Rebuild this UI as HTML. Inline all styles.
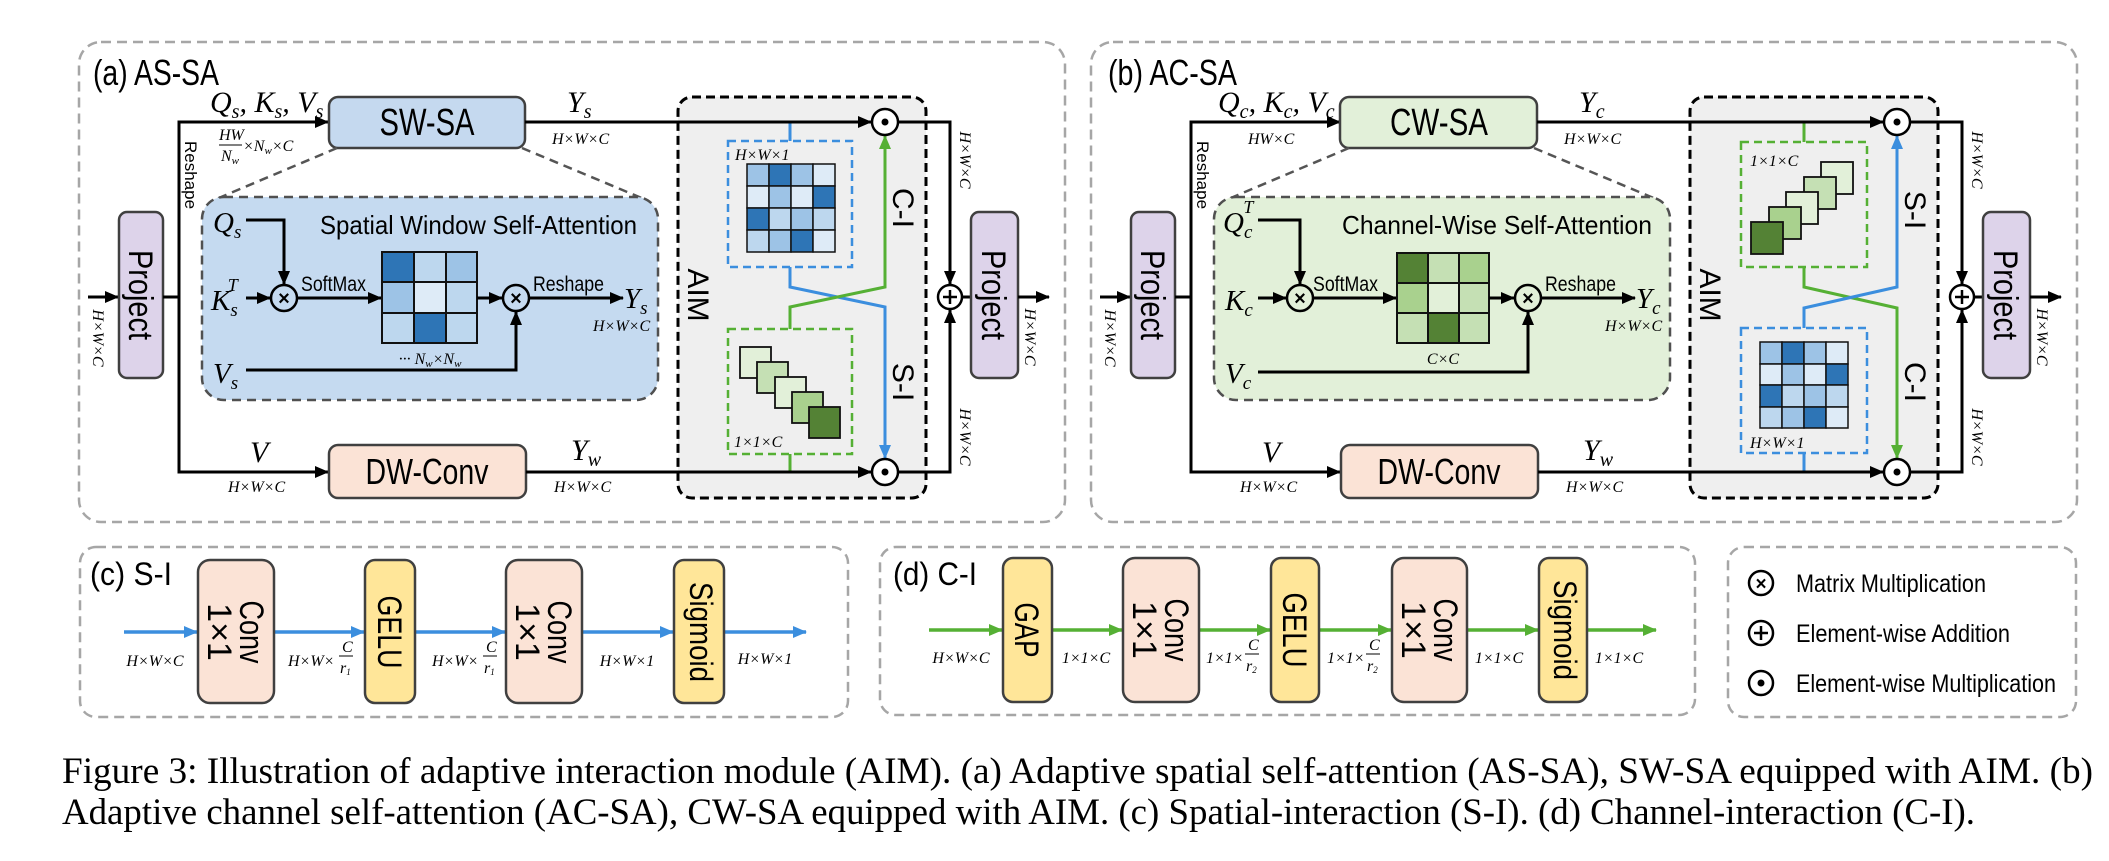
<!DOCTYPE html>
<html><head><meta charset="utf-8"><style>
html,body{margin:0;padding:0;background:#fff;}
svg{display:block;}
.sans{font-family:"Liberation Sans",sans-serif;}
.mi{font-family:"Liberation Serif",serif;font-style:italic;}
.dim{font-family:"Liberation Serif",serif;font-style:italic;font-size:16px;}
</style></head><body>
<svg width="2109" height="861" viewBox="0 0 2109 861" xmlns="http://www.w3.org/2000/svg">
<defs>
<marker id="ab" markerWidth="14" markerHeight="12" refX="13" refY="6" orient="auto" markerUnits="userSpaceOnUse"><path d="M0,0 L14,6 L0,12 z" fill="#000"/></marker>
<marker id="abl" markerWidth="14" markerHeight="12" refX="13" refY="6" orient="auto" markerUnits="userSpaceOnUse"><path d="M0,0 L14,6 L0,12 z" fill="#3b8ede"/></marker>
<marker id="agr" markerWidth="14" markerHeight="12" refX="13" refY="6" orient="auto" markerUnits="userSpaceOnUse"><path d="M0,0 L14,6 L0,12 z" fill="#55b034"/></marker>
</defs>

<!-- ================= (a) ================= -->
<g>
<rect x="79" y="42" width="986" height="480" rx="22" fill="none" stroke="#a6a6a6" stroke-width="2.5" stroke-dasharray="10 6"/>
<text x="93" y="85" class="sans" font-size="36" textLength="126" lengthAdjust="spacingAndGlyphs">(a) AS-SA</text>

<rect x="678" y="97" width="248" height="401" rx="14" fill="#efefef" stroke="#000" stroke-width="3" stroke-dasharray="9 5"/>
<text transform="translate(688,295) rotate(90)" class="sans" font-size="30" text-anchor="middle">AIM</text>

<rect x="728" y="141" width="124" height="126" fill="none" stroke="#3b8ede" stroke-width="2.5" stroke-dasharray="8 5"/>
<text x="735" y="160" class="dim">H×W×1</text>
<g stroke="#111" stroke-width="1.5">
<rect x="747" y="164" width="22" height="22" fill="#9dc3e6"/><rect x="769" y="164" width="22" height="22" fill="#2e75b6"/><rect x="791" y="164" width="22" height="22" fill="#9dc3e6"/><rect x="813" y="164" width="22" height="22" fill="#deebf7"/>
<rect x="747" y="186" width="22" height="22" fill="#deebf7"/><rect x="769" y="186" width="22" height="22" fill="#9dc3e6"/><rect x="791" y="186" width="22" height="22" fill="#deebf7"/><rect x="813" y="186" width="22" height="22" fill="#2e75b6"/>
<rect x="747" y="208" width="22" height="22" fill="#2e75b6"/><rect x="769" y="208" width="22" height="22" fill="#bdd7ee"/><rect x="791" y="208" width="22" height="22" fill="#9dc3e6"/><rect x="813" y="208" width="22" height="22" fill="#bdd7ee"/>
<rect x="747" y="230" width="22" height="22" fill="#bdd7ee"/><rect x="769" y="230" width="22" height="22" fill="#9dc3e6"/><rect x="791" y="230" width="22" height="22" fill="#2e75b6"/><rect x="813" y="230" width="22" height="22" fill="#deebf7"/>
</g>
<rect x="728" y="329" width="124" height="125" fill="none" stroke="#55b034" stroke-width="2.5" stroke-dasharray="8 5"/>
<g stroke="#111" stroke-width="1.8">
<rect x="740" y="347" width="31" height="31" fill="#e2f0d9"/>
<rect x="757" y="362" width="31" height="31" fill="#c5e0b4"/>
<rect x="775" y="377" width="31" height="31" fill="#e2f0d9"/>
<rect x="792" y="392" width="31" height="31" fill="#a9d18e"/>
<rect x="809" y="407" width="31" height="31" fill="#548235"/>
</g>
<text x="734" y="447" class="dim">1×1×C</text>

<polyline points="790,122 790,141" fill="none" stroke="#3b8ede" stroke-width="3"/>
<polyline points="790,267 790,287 885,307 885,458" fill="none" stroke="#3b8ede" stroke-width="3" marker-end="url(#abl)"/>
<polyline points="790,472 790,454" fill="none" stroke="#55b034" stroke-width="3"/>
<polyline points="790,329 790,307 885,287 885,136" fill="none" stroke="#55b034" stroke-width="3" marker-end="url(#agr)"/>
<text transform="translate(893,208) rotate(90)" class="sans" font-size="30" text-anchor="middle">C-I</text>
<text transform="translate(893,382) rotate(90)" class="sans" font-size="30" text-anchor="middle">S-I</text>

<line x1="88" y1="297" x2="118" y2="297" stroke="#000" stroke-width="3" marker-end="url(#ab)"/>
<text transform="translate(93,338) rotate(90)" class="dim" text-anchor="middle">H×W×C</text>
<rect x="119" y="212" width="44" height="166" rx="8" fill="#ddd3ea" stroke="#404040" stroke-width="2.5"/>
<text transform="translate(129,295) rotate(90)" class="sans" font-size="34" text-anchor="middle" textLength="90" lengthAdjust="spacingAndGlyphs">Project</text>
<line x1="163" y1="297" x2="179" y2="297" stroke="#000" stroke-width="3"/>
<polyline points="328,122 179,122 179,472 328,472" fill="none" stroke="#000" stroke-width="3"/>
<line x1="300" y1="122" x2="328" y2="122" stroke="#000" stroke-width="3" marker-end="url(#ab)"/>
<line x1="300" y1="472" x2="328" y2="472" stroke="#000" stroke-width="3" marker-end="url(#ab)"/>
<text transform="translate(185,175) rotate(90)" class="sans" font-size="17" text-anchor="middle">Reshape</text>

<text x="210" y="112" class="mi" font-size="30">Q<tspan font-size="20" dy="6">s</tspan><tspan dy="-6">, K</tspan><tspan font-size="20" dy="6">s</tspan><tspan dy="-6">, V</tspan><tspan font-size="20" dy="6">s</tspan></text>
<text x="219" y="140" class="dim">HW</text><line x1="219" y1="145" x2="242" y2="145" stroke="#000" stroke-width="1"/>
<text x="221" y="161" class="dim">N<tspan font-size="11" dy="3">w</tspan></text>
<text x="243" y="151" class="dim">×N<tspan font-size="11" dy="3">w</tspan><tspan dy="-3">×C</tspan></text>

<rect x="329" y="97" width="196" height="51" rx="9" fill="#c5d9ef" stroke="#404040" stroke-width="2.5"/>
<text x="427" y="135" class="sans" font-size="38" text-anchor="middle" textLength="95" lengthAdjust="spacingAndGlyphs">SW-SA</text>
<line x1="525" y1="122" x2="871" y2="122" stroke="#000" stroke-width="3" marker-end="url(#ab)"/>
<text x="567" y="112" class="mi" font-size="30">Y<tspan font-size="20" dy="6">s</tspan></text>
<text x="552" y="144" class="dim">H×W×C</text>

<line x1="337" y1="148" x2="214" y2="200" stroke="#555" stroke-width="2.5" stroke-dasharray="9 6"/>
<line x1="522" y1="148" x2="644" y2="199" stroke="#555" stroke-width="2.5" stroke-dasharray="9 6"/>

<rect x="202" y="197" width="456" height="203" rx="22" fill="#c5daf0" stroke="#505050" stroke-width="2.5" stroke-dasharray="9 6"/>
<text x="320" y="234" class="sans" font-size="26" textLength="317" lengthAdjust="spacingAndGlyphs">Spatial Window Self-Attention</text>
<text x="213" y="232" class="mi" font-size="29">Q<tspan font-size="19" dy="6">s</tspan></text>
<polyline points="246,220 284,220 284,284" fill="none" stroke="#000" stroke-width="3" marker-end="url(#ab)"/>
<text x="211" y="310" class="mi" font-size="29">K<tspan font-size="19" dy="6">s</tspan><tspan font-size="18" dx="-10" dy="-25">T</tspan></text>
<line x1="246" y1="298" x2="270" y2="298" stroke="#000" stroke-width="3" marker-end="url(#ab)"/>
<circle cx="284" cy="298" r="13" fill="none" stroke="#000" stroke-width="2.5"/>
<text x="284" y="305" class="sans" font-size="20" font-weight="bold" text-anchor="middle">×</text>
<line x1="297" y1="298" x2="381" y2="298" stroke="#000" stroke-width="3" marker-end="url(#ab)"/>
<text x="301" y="291" class="sans" font-size="21" textLength="65" lengthAdjust="spacingAndGlyphs">SoftMax</text>
<g stroke="#111" stroke-width="2">
<rect x="382" y="252" width="32" height="30" fill="#2e75b6"/><rect x="414" y="252" width="32" height="30" fill="#bdd7ee"/><rect x="446" y="252" width="31" height="30" fill="#9dc3e6"/>
<rect x="382" y="282" width="32" height="31" fill="#9dc3e6"/><rect x="414" y="282" width="32" height="31" fill="#deebf7"/><rect x="446" y="282" width="31" height="31" fill="#bdd7ee"/>
<rect x="382" y="313" width="32" height="30" fill="#bdd7ee"/><rect x="414" y="313" width="32" height="30" fill="#2e75b6"/><rect x="446" y="313" width="31" height="30" fill="#bdd7ee"/>
</g>
<text x="430" y="364" class="dim" text-anchor="middle">··· N<tspan font-size="11" dy="3">w</tspan><tspan dy="-3">×N</tspan><tspan font-size="11" dy="3">w</tspan></text>
<line x1="477" y1="298" x2="502" y2="298" stroke="#000" stroke-width="3" marker-end="url(#ab)"/>
<circle cx="516" cy="298" r="13" fill="none" stroke="#000" stroke-width="2.5"/>
<text x="516" y="305" class="sans" font-size="20" font-weight="bold" text-anchor="middle">×</text>
<line x1="529" y1="298" x2="623" y2="298" stroke="#000" stroke-width="3" marker-end="url(#ab)"/>
<text x="533" y="291" class="sans" font-size="21" textLength="71" lengthAdjust="spacingAndGlyphs">Reshape</text>
<text x="624" y="308" class="mi" font-size="29">Y<tspan font-size="19" dy="6">s</tspan></text>
<text x="593" y="331" class="dim">H×W×C</text>
<text x="213" y="383" class="mi" font-size="29">V<tspan font-size="19" dy="6">s</tspan></text>
<polyline points="246,370 516,370 516,312" fill="none" stroke="#000" stroke-width="3" marker-end="url(#ab)"/>

<text x="250" y="462" class="mi" font-size="30">V</text>
<text x="228" y="492" class="dim">H×W×C</text>
<rect x="329" y="445" width="197" height="53" rx="9" fill="#fbe3d6" stroke="#404040" stroke-width="2.5"/>
<text x="427" y="484" class="sans" font-size="36" text-anchor="middle" textLength="123" lengthAdjust="spacingAndGlyphs">DW-Conv</text>
<line x1="526" y1="472" x2="871" y2="472" stroke="#000" stroke-width="3" marker-end="url(#ab)"/>
<text x="571" y="460" class="mi" font-size="30">Y<tspan font-size="20" dy="6">w</tspan></text>
<text x="554" y="492" class="dim">H×W×C</text>

<circle cx="885" cy="122" r="13" fill="#fff" stroke="#000" stroke-width="2.5"/><circle cx="885" cy="122" r="3.5" fill="#000"/>
<circle cx="885" cy="472" r="13" fill="#fff" stroke="#000" stroke-width="2.5"/><circle cx="885" cy="472" r="3.5" fill="#000"/>
<polyline points="898,122 950,122 950,284" fill="none" stroke="#000" stroke-width="3" marker-end="url(#ab)"/>
<polyline points="898,472 950,472 950,310" fill="none" stroke="#000" stroke-width="3" marker-end="url(#ab)"/>
<text transform="translate(960,160) rotate(90)" class="dim" text-anchor="middle">H×W×C</text>
<text transform="translate(960,437) rotate(90)" class="dim" text-anchor="middle">H×W×C</text>
<circle cx="950" cy="297" r="12" fill="#fff" stroke="#000" stroke-width="2.5"/>
<line x1="943" y1="297" x2="957" y2="297" stroke="#000" stroke-width="2.5"/><line x1="950" y1="290" x2="950" y2="304" stroke="#000" stroke-width="2.5"/>
<line x1="962" y1="297" x2="971" y2="297" stroke="#000" stroke-width="3"/>
<rect x="971" y="212" width="47" height="166" rx="8" fill="#ddd3ea" stroke="#404040" stroke-width="2.5"/>
<text transform="translate(982,295) rotate(90)" class="sans" font-size="34" text-anchor="middle" textLength="90" lengthAdjust="spacingAndGlyphs">Project</text>
<line x1="1018" y1="297" x2="1049" y2="297" stroke="#000" stroke-width="3" marker-end="url(#ab)"/>
<text transform="translate(1025,337) rotate(90)" class="dim" text-anchor="middle">H×W×C</text>
</g>

<!-- ================= (b) ================= -->
<g transform="translate(1012,0)">
<rect x="79" y="42" width="986" height="480" rx="22" fill="none" stroke="#a6a6a6" stroke-width="2.5" stroke-dasharray="10 6"/>
<text x="96" y="85" class="sans" font-size="36" textLength="129" lengthAdjust="spacingAndGlyphs">(b) AC-SA</text>

<rect x="678" y="97" width="248" height="401" rx="14" fill="#efefef" stroke="#000" stroke-width="3" stroke-dasharray="9 5"/>
<text transform="translate(688,295) rotate(90)" class="sans" font-size="30" text-anchor="middle">AIM</text>

<rect x="729" y="142" width="126" height="125" fill="none" stroke="#55b034" stroke-width="2.5" stroke-dasharray="8 5"/>
<text x="738" y="166" class="dim">1×1×C</text>
<g stroke="#111" stroke-width="1.8">
<rect x="809" y="162" width="32" height="32" fill="#e2f0d9"/>
<rect x="792" y="177" width="32" height="32" fill="#c5e0b4"/>
<rect x="774" y="192" width="32" height="32" fill="#e2f0d9"/>
<rect x="757" y="207" width="32" height="32" fill="#a9d18e"/>
<rect x="739" y="222" width="32" height="32" fill="#548235"/>
</g>
<rect x="729" y="328" width="126" height="125" fill="none" stroke="#3b8ede" stroke-width="2.5" stroke-dasharray="8 5"/>
<g stroke="#111" stroke-width="1.5">
<rect x="748" y="342" width="22" height="22" fill="#9dc3e6"/><rect x="770" y="342" width="22" height="22" fill="#2e75b6"/><rect x="792" y="342" width="22" height="22" fill="#9dc3e6"/><rect x="814" y="342" width="22" height="22" fill="#deebf7"/>
<rect x="748" y="364" width="22" height="21" fill="#deebf7"/><rect x="770" y="364" width="22" height="21" fill="#9dc3e6"/><rect x="792" y="364" width="22" height="21" fill="#deebf7"/><rect x="814" y="364" width="22" height="21" fill="#2e75b6"/>
<rect x="748" y="385" width="22" height="22" fill="#2e75b6"/><rect x="770" y="385" width="22" height="22" fill="#bdd7ee"/><rect x="792" y="385" width="22" height="22" fill="#9dc3e6"/><rect x="814" y="385" width="22" height="22" fill="#bdd7ee"/>
<rect x="748" y="407" width="22" height="21" fill="#bdd7ee"/><rect x="770" y="407" width="22" height="21" fill="#9dc3e6"/><rect x="792" y="407" width="22" height="21" fill="#2e75b6"/><rect x="814" y="407" width="22" height="21" fill="#deebf7"/>
</g>
<text x="738" y="448" class="dim">H×W×1</text>

<polyline points="792,122 792,142" fill="none" stroke="#55b034" stroke-width="3"/>
<polyline points="792,267 792,287 885,308 885,458" fill="none" stroke="#55b034" stroke-width="3" marker-end="url(#agr)"/>
<polyline points="792,472 792,453" fill="none" stroke="#3b8ede" stroke-width="3"/>
<polyline points="792,328 792,308 885,287 885,136" fill="none" stroke="#3b8ede" stroke-width="3" marker-end="url(#abl)"/>
<text transform="translate(893,210) rotate(90)" class="sans" font-size="30" text-anchor="middle">S-I</text>
<text transform="translate(893,382) rotate(90)" class="sans" font-size="30" text-anchor="middle">C-I</text>

<line x1="88" y1="297" x2="118" y2="297" stroke="#000" stroke-width="3" marker-end="url(#ab)"/>
<text transform="translate(93,338) rotate(90)" class="dim" text-anchor="middle">H×W×C</text>
<rect x="119" y="212" width="44" height="166" rx="8" fill="#ddd3ea" stroke="#404040" stroke-width="2.5"/>
<text transform="translate(129,295) rotate(90)" class="sans" font-size="34" text-anchor="middle" textLength="90" lengthAdjust="spacingAndGlyphs">Project</text>
<line x1="163" y1="297" x2="179" y2="297" stroke="#000" stroke-width="3"/>
<polyline points="328,122 179,122 179,472 328,472" fill="none" stroke="#000" stroke-width="3"/>
<line x1="300" y1="122" x2="328" y2="122" stroke="#000" stroke-width="3" marker-end="url(#ab)"/>
<line x1="300" y1="472" x2="328" y2="472" stroke="#000" stroke-width="3" marker-end="url(#ab)"/>
<text transform="translate(185,175) rotate(90)" class="sans" font-size="17" text-anchor="middle">Reshape</text>

<text x="206" y="112" class="mi" font-size="30">Q<tspan font-size="20" dy="6">c</tspan><tspan dy="-6">, K</tspan><tspan font-size="20" dy="6">c</tspan><tspan dy="-6">, V</tspan><tspan font-size="20" dy="6">c</tspan></text>
<text x="236" y="144" class="dim">HW×C</text>

<rect x="328" y="97" width="197" height="51" rx="9" fill="#e2f0d9" stroke="#404040" stroke-width="2.5"/>
<text x="427" y="135" class="sans" font-size="38" text-anchor="middle" textLength="98" lengthAdjust="spacingAndGlyphs">CW-SA</text>
<line x1="525" y1="122" x2="871" y2="122" stroke="#000" stroke-width="3" marker-end="url(#ab)"/>
<text x="567" y="112" class="mi" font-size="30">Y<tspan font-size="20" dy="6">c</tspan></text>
<text x="552" y="144" class="dim">H×W×C</text>

<line x1="337" y1="148" x2="214" y2="200" stroke="#555" stroke-width="2.5" stroke-dasharray="9 6"/>
<line x1="522" y1="148" x2="644" y2="199" stroke="#555" stroke-width="2.5" stroke-dasharray="9 6"/>

<rect x="202" y="197" width="456" height="203" rx="22" fill="#e2f0d9" stroke="#505050" stroke-width="2.5" stroke-dasharray="9 6"/>
<text x="330" y="234" class="sans" font-size="26" textLength="310" lengthAdjust="spacingAndGlyphs">Channel-Wise Self-Attention</text>
<text x="211" y="232" class="mi" font-size="29">Q<tspan font-size="19" dy="6">c</tspan><tspan font-size="18" dx="-9" dy="-25">T</tspan></text>
<polyline points="246,220 288,220 288,284" fill="none" stroke="#000" stroke-width="3" marker-end="url(#ab)"/>
<text x="213" y="310" class="mi" font-size="29">K<tspan font-size="19" dy="6">c</tspan></text>
<line x1="246" y1="298" x2="274" y2="298" stroke="#000" stroke-width="3" marker-end="url(#ab)"/>
<circle cx="288" cy="298" r="13" fill="none" stroke="#000" stroke-width="2.5"/>
<text x="288" y="305" class="sans" font-size="20" font-weight="bold" text-anchor="middle">×</text>
<line x1="301" y1="298" x2="384" y2="298" stroke="#000" stroke-width="3" marker-end="url(#ab)"/>
<text x="301" y="291" class="sans" font-size="21" textLength="65" lengthAdjust="spacingAndGlyphs">SoftMax</text>
<g stroke="#111" stroke-width="2">
<rect x="385" y="253" width="31" height="30" fill="#548235"/><rect x="416" y="253" width="31" height="30" fill="#c5e0b4"/><rect x="447" y="253" width="30" height="30" fill="#a9d18e"/>
<rect x="385" y="283" width="31" height="30" fill="#a9d18e"/><rect x="416" y="283" width="31" height="30" fill="#e2f0d9"/><rect x="447" y="283" width="30" height="30" fill="#c5e0b4"/>
<rect x="385" y="313" width="31" height="30" fill="#c5e0b4"/><rect x="416" y="313" width="31" height="30" fill="#548235"/><rect x="447" y="313" width="30" height="30" fill="#c5e0b4"/>
</g>
<text x="431" y="364" class="dim" text-anchor="middle">C×C</text>
<line x1="477" y1="298" x2="502" y2="298" stroke="#000" stroke-width="3" marker-end="url(#ab)"/>
<circle cx="516" cy="298" r="13" fill="none" stroke="#000" stroke-width="2.5"/>
<text x="516" y="305" class="sans" font-size="20" font-weight="bold" text-anchor="middle">×</text>
<line x1="529" y1="298" x2="623" y2="298" stroke="#000" stroke-width="3" marker-end="url(#ab)"/>
<text x="533" y="291" class="sans" font-size="21" textLength="71" lengthAdjust="spacingAndGlyphs">Reshape</text>
<text x="624" y="308" class="mi" font-size="29">Y<tspan font-size="19" dy="6">c</tspan></text>
<text x="593" y="331" class="dim">H×W×C</text>
<text x="213" y="383" class="mi" font-size="29">V<tspan font-size="19" dy="6">c</tspan></text>
<polyline points="246,372 516,372 516,312" fill="none" stroke="#000" stroke-width="3" marker-end="url(#ab)"/>

<text x="250" y="462" class="mi" font-size="30">V</text>
<text x="228" y="492" class="dim">H×W×C</text>
<rect x="329" y="445" width="197" height="53" rx="9" fill="#fbe3d6" stroke="#404040" stroke-width="2.5"/>
<text x="427" y="484" class="sans" font-size="36" text-anchor="middle" textLength="123" lengthAdjust="spacingAndGlyphs">DW-Conv</text>
<line x1="526" y1="472" x2="871" y2="472" stroke="#000" stroke-width="3" marker-end="url(#ab)"/>
<text x="571" y="460" class="mi" font-size="30">Y<tspan font-size="20" dy="6">w</tspan></text>
<text x="554" y="492" class="dim">H×W×C</text>

<circle cx="885" cy="122" r="13" fill="#fff" stroke="#000" stroke-width="2.5"/><circle cx="885" cy="122" r="3.5" fill="#000"/>
<circle cx="885" cy="472" r="13" fill="#fff" stroke="#000" stroke-width="2.5"/><circle cx="885" cy="472" r="3.5" fill="#000"/>
<polyline points="898,122 950,122 950,284" fill="none" stroke="#000" stroke-width="3" marker-end="url(#ab)"/>
<polyline points="898,472 950,472 950,310" fill="none" stroke="#000" stroke-width="3" marker-end="url(#ab)"/>
<text transform="translate(960,160) rotate(90)" class="dim" text-anchor="middle">H×W×C</text>
<text transform="translate(960,437) rotate(90)" class="dim" text-anchor="middle">H×W×C</text>
<circle cx="950" cy="297" r="12" fill="#fff" stroke="#000" stroke-width="2.5"/>
<line x1="943" y1="297" x2="957" y2="297" stroke="#000" stroke-width="2.5"/><line x1="950" y1="290" x2="950" y2="304" stroke="#000" stroke-width="2.5"/>
<line x1="962" y1="297" x2="971" y2="297" stroke="#000" stroke-width="3"/>
<rect x="971" y="212" width="47" height="166" rx="8" fill="#ddd3ea" stroke="#404040" stroke-width="2.5"/>
<text transform="translate(982,295) rotate(90)" class="sans" font-size="34" text-anchor="middle" textLength="90" lengthAdjust="spacingAndGlyphs">Project</text>
<line x1="1018" y1="297" x2="1049" y2="297" stroke="#000" stroke-width="3" marker-end="url(#ab)"/>
<text transform="translate(1025,337) rotate(90)" class="dim" text-anchor="middle">H×W×C</text>
</g>

<!-- ================= (c) S-I ================= -->
<rect x="80" y="547" width="768" height="170" rx="16" fill="none" stroke="#a6a6a6" stroke-width="2.5" stroke-dasharray="10 6"/>
<text x="90" y="585" class="sans" font-size="32" textLength="82" lengthAdjust="spacingAndGlyphs">(c) S-I</text>
<g stroke="#3b8ede" stroke-width="3.5" fill="none">
<line x1="124" y1="632" x2="197" y2="632" marker-end="url(#abl)"/>
<line x1="274" y1="632" x2="364" y2="632" marker-end="url(#abl)"/>
<line x1="415" y1="632" x2="505" y2="632" marker-end="url(#abl)"/>
<line x1="582" y1="632" x2="673" y2="632" marker-end="url(#abl)"/>
<line x1="724" y1="632" x2="806" y2="632" marker-end="url(#abl)"/>
</g>
<rect x="198" y="560" width="76" height="143" rx="12" fill="#fbe3d6" stroke="#404040" stroke-width="2.5"/>
<text transform="translate(236,632) rotate(90)" class="sans" font-size="34" text-anchor="middle"><tspan x="0" y="-4" textLength="63" lengthAdjust="spacingAndGlyphs">Conv</tspan><tspan x="0" y="28">1×1</tspan></text>
<rect x="365" y="560" width="50" height="143" rx="10" fill="#ffe699" stroke="#404040" stroke-width="2.5"/>
<text transform="translate(390,632) rotate(90)" class="sans" font-size="34" text-anchor="middle" dy="12" textLength="73" lengthAdjust="spacingAndGlyphs">GELU</text>
<rect x="506" y="560" width="76" height="143" rx="12" fill="#fbe3d6" stroke="#404040" stroke-width="2.5"/>
<text transform="translate(544,632) rotate(90)" class="sans" font-size="34" text-anchor="middle"><tspan x="0" y="-4" textLength="63" lengthAdjust="spacingAndGlyphs">Conv</tspan><tspan x="0" y="28">1×1</tspan></text>
<rect x="674" y="560" width="50" height="143" rx="10" fill="#ffe699" stroke="#404040" stroke-width="2.5"/>
<text transform="translate(699,632) rotate(90)" class="sans" font-size="32" text-anchor="middle" dy="9" textLength="100" lengthAdjust="spacingAndGlyphs">Sigmoid</text>
<text x="155" y="666" class="dim" text-anchor="middle">H×W×C</text>
<text x="288" y="666" class="dim">H×W×</text><text x="342" y="652" class="dim" font-size="12">C</text><line x1="339" y1="656" x2="353" y2="656" stroke="#000" stroke-width="1"/><text x="340" y="673" class="dim" font-size="12">r<tspan font-size="9" dy="2">1</tspan></text>
<text x="432" y="666" class="dim">H×W×</text><text x="486" y="652" class="dim" font-size="12">C</text><line x1="483" y1="656" x2="497" y2="656" stroke="#000" stroke-width="1"/><text x="484" y="673" class="dim" font-size="12">r<tspan font-size="9" dy="2">1</tspan></text>
<text x="627" y="666" class="dim" text-anchor="middle">H×W×1</text>
<text x="765" y="664" class="dim" text-anchor="middle">H×W×1</text>

<!-- ================= (d) C-I ================= -->
<rect x="880" y="547" width="815" height="168" rx="16" fill="none" stroke="#a6a6a6" stroke-width="2.5" stroke-dasharray="10 6"/>
<text x="893" y="585" class="sans" font-size="32" textLength="84" lengthAdjust="spacingAndGlyphs">(d) C-I</text>
<g stroke="#55b034" stroke-width="3.5" fill="none">
<line x1="929" y1="630" x2="1002" y2="630" marker-end="url(#agr)"/>
<line x1="1052" y1="630" x2="1122" y2="630" marker-end="url(#agr)"/>
<line x1="1199" y1="630" x2="1270" y2="630" marker-end="url(#agr)"/>
<line x1="1319" y1="630" x2="1391" y2="630" marker-end="url(#agr)"/>
<line x1="1467" y1="630" x2="1538" y2="630" marker-end="url(#agr)"/>
<line x1="1587" y1="630" x2="1656" y2="630" marker-end="url(#agr)"/>
</g>
<rect x="1003" y="558" width="49" height="144" rx="10" fill="#ffe699" stroke="#404040" stroke-width="2.5"/>
<text transform="translate(1027,630) rotate(90)" class="sans" font-size="34" text-anchor="middle" dy="12" textLength="55" lengthAdjust="spacingAndGlyphs">GAP</text>
<rect x="1123" y="558" width="76" height="144" rx="12" fill="#fbe3d6" stroke="#404040" stroke-width="2.5"/>
<text transform="translate(1161,630) rotate(90)" class="sans" font-size="34" text-anchor="middle"><tspan x="0" y="-4" textLength="63" lengthAdjust="spacingAndGlyphs">Conv</tspan><tspan x="0" y="28">1×1</tspan></text>
<rect x="1271" y="558" width="48" height="144" rx="10" fill="#ffe699" stroke="#404040" stroke-width="2.5"/>
<text transform="translate(1295,630) rotate(90)" class="sans" font-size="34" text-anchor="middle" dy="12" textLength="75" lengthAdjust="spacingAndGlyphs">GELU</text>
<rect x="1392" y="558" width="75" height="144" rx="12" fill="#fbe3d6" stroke="#404040" stroke-width="2.5"/>
<text transform="translate(1430,630) rotate(90)" class="sans" font-size="34" text-anchor="middle"><tspan x="0" y="-4" textLength="63" lengthAdjust="spacingAndGlyphs">Conv</tspan><tspan x="0" y="28">1×1</tspan></text>
<rect x="1539" y="558" width="48" height="144" rx="10" fill="#ffe699" stroke="#404040" stroke-width="2.5"/>
<text transform="translate(1563,630) rotate(90)" class="sans" font-size="32" text-anchor="middle" dy="9" textLength="100" lengthAdjust="spacingAndGlyphs">Sigmoid</text>
<text x="961" y="663" class="dim" text-anchor="middle">H×W×C</text>
<text x="1086" y="663" class="dim" text-anchor="middle">1×1×C</text>
<text x="1206" y="663" class="dim">1×1×</text><text x="1248" y="650" class="dim" font-size="12">C</text><line x1="1245" y1="654" x2="1259" y2="654" stroke="#000" stroke-width="1"/><text x="1246" y="671" class="dim" font-size="12">r<tspan font-size="9" dy="2">2</tspan></text>
<text x="1327" y="663" class="dim">1×1×</text><text x="1369" y="650" class="dim" font-size="12">C</text><line x1="1366" y1="654" x2="1380" y2="654" stroke="#000" stroke-width="1"/><text x="1367" y="671" class="dim" font-size="12">r<tspan font-size="9" dy="2">2</tspan></text>
<text x="1499" y="663" class="dim" text-anchor="middle">1×1×C</text>
<text x="1619" y="663" class="dim" text-anchor="middle">1×1×C</text>

<!-- legend -->
<rect x="1728" y="547" width="348" height="170" rx="16" fill="none" stroke="#a6a6a6" stroke-width="2.5" stroke-dasharray="10 6"/>
<circle cx="1761" cy="583" r="12" fill="none" stroke="#000" stroke-width="2.5"/>
<text x="1761" y="590" class="sans" font-size="19" font-weight="bold" text-anchor="middle">×</text>
<circle cx="1761" cy="633" r="12" fill="none" stroke="#000" stroke-width="2.5"/>
<line x1="1754" y1="633" x2="1768" y2="633" stroke="#000" stroke-width="2.5"/><line x1="1761" y1="626" x2="1761" y2="640" stroke="#000" stroke-width="2.5"/>
<circle cx="1761" cy="683" r="12" fill="none" stroke="#000" stroke-width="2.5"/><circle cx="1761" cy="683" r="3.5" fill="#000"/>
<text x="1796" y="592" class="sans" font-size="25" textLength="190" lengthAdjust="spacingAndGlyphs">Matrix Multiplication</text>
<text x="1796" y="642" class="sans" font-size="25" textLength="214" lengthAdjust="spacingAndGlyphs">Element-wise Addition</text>
<text x="1796" y="692" class="sans" font-size="25" textLength="260" lengthAdjust="spacingAndGlyphs">Element-wise Multiplication</text>

<!-- caption -->
<text x="62" y="783" font-family="Liberation Serif, serif" font-size="37" textLength="2031" lengthAdjust="spacingAndGlyphs">Figure 3: Illustration of adaptive interaction module (AIM). (a) Adaptive spatial self-attention (AS-SA), SW-SA equipped with AIM. (b)</text>
<text x="62" y="824" font-family="Liberation Serif, serif" font-size="37" textLength="1913" lengthAdjust="spacingAndGlyphs">Adaptive channel self-attention (AC-SA), CW-SA equipped with AIM. (c) Spatial-interaction (S-I). (d) Channel-interaction (C-I).</text>
</svg>
</body></html>
